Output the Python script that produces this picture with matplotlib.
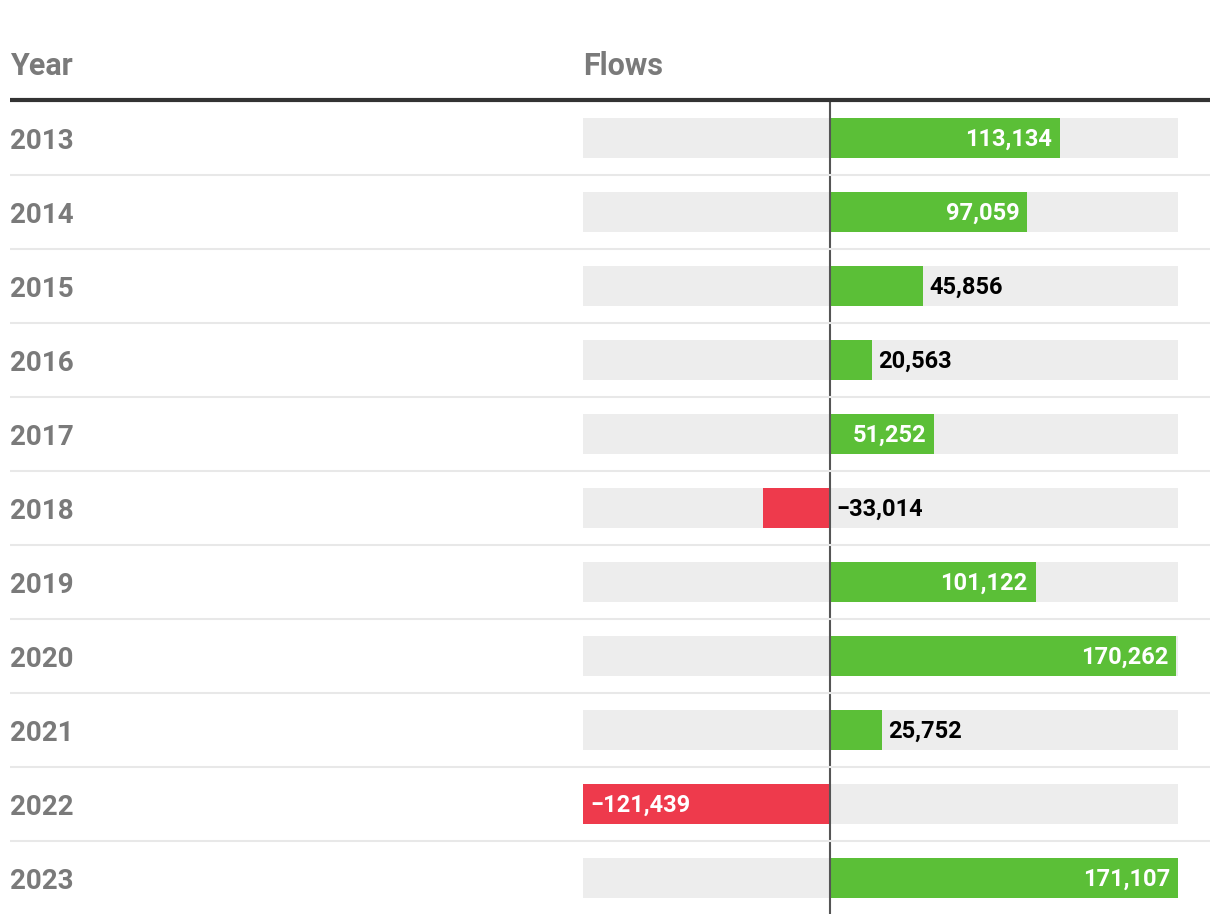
import matplotlib
matplotlib.use("Agg")
import matplotlib.pyplot as plt

years = ["2013", "2014", "2015", "2016", "2017", "2018", "2019", "2020", "2021", "2022", "2023"]
flows = [113134, 97059, 45856, 20563, 51252, -33014, 101122, 170262, 25752, -121439, 171107]

header_year = "Year"
header_flows = "Flows"

GREEN = "#5bbf37"
RED = "#ee3a4c"
BG = "#ededed"
SEP = "#e8e8e8"
GRAY_TXT = "#7a7a7a"

W, H = 1220, 924
fig = plt.figure(figsize=(W / 100, H / 100), dpi=100)
ax = fig.add_axes([0, 0, 1, 1])
ax.set_axis_off()

plt.rcParams['font.family'] = ['Roboto', 'DejaVu Sans']

# pixel layout
ZERO_PX, MAXV_PX = 830, 1178
vmax = max(flows)
vmin = min(flows)
k = (MAXV_PX - ZERO_PX) / vmax
ax.set_xlim(-ZERO_PX / k, (W - ZERO_PX) / k)
ROW0, STEP = 138, 74
ax.set_ylim((H - ROW0) / STEP, -ROW0 / STEP)

def py(px):
    return (px - ROW0) / STEP

def px2x(px):
    return (px - ZERO_PX) / k

ys = list(range(len(years)))
bar_h = 40 / STEP

# background bars
ax.barh(ys, [vmax - vmin] * len(ys), left=vmin, height=bar_h, color=BG, zorder=1)
# value bars
ax.barh(ys, flows, left=0, height=bar_h,
        color=[GREEN if v >= 0 else RED for v in flows], zorder=2)

# zero line
ax.plot([0, 0], [py(100), py(914)], color="#555555", lw=1.5, zorder=3, solid_capstyle="butt")

# header line
ax.plot([px2x(10), px2x(1210)], [py(100), py(100)], color="#333333", lw=3, zorder=4,
        solid_capstyle="butt")
# separators
for i in range(len(ys) - 1):
    yy = i + 0.5
    ax.plot([px2x(10), px2x(1210)], [yy, yy], color=SEP, lw=1.5, zorder=4,
            solid_capstyle="butt")

# headers
ax.text(px2x(10), py(75), header_year, fontsize=22, fontweight="bold", color=GRAY_TXT,
        ha="left", va="baseline")
ax.text(vmin, py(75), header_flows, fontsize=22, fontweight="bold", color=GRAY_TXT,
        ha="left", va="baseline")

# year labels
for y, yr in zip(ys, years):
    ax.text(px2x(10), y + 11 / STEP, yr, fontsize=20, fontweight="bold", color=GRAY_TXT,
            ha="left", va="baseline")

fig.canvas.draw()
renderer = fig.canvas.get_renderer()

def fmt(v):
    s = f"{abs(v):,}"
    return ("\u2212" + s) if v < 0 else s

VFS = 17
for y, v in zip(ys, flows):
    label = fmt(v)
    bar_px = abs(v) * k
    probe = ax.text(0, y, label, fontsize=VFS, fontweight="bold")
    tw = probe.get_window_extent(renderer).width
    probe.remove()
    yb = y + 8 / STEP
    kw = dict(textcoords="offset pixels", va="baseline", fontsize=VFS,
              fontweight="bold", zorder=5)
    if bar_px >= tw + 26:
        if v >= 0:
            ax.annotate(label, (v, yb), xytext=(-8, 0), ha="right", color="white", **kw)
        else:
            ax.annotate(label, (v, yb), xytext=(7, 0), ha="left", color="white", **kw)
    else:
        xpos = v if v >= 0 else 0
        ax.annotate(label, (xpos, yb), xytext=(6, 0), ha="left", color="black", **kw)

fig.savefig("out.png", dpi=100, facecolor="white")
